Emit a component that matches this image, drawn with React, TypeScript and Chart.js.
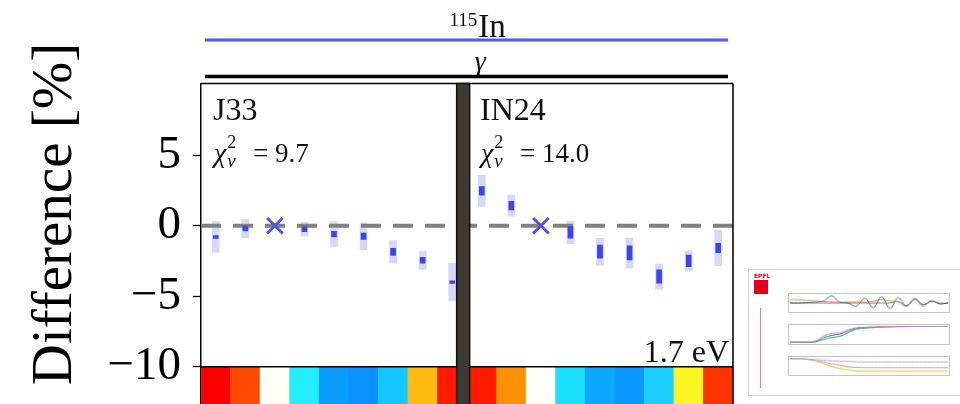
import React, { useEffect, useRef } from 'react';
import { Chart, registerables } from 'chart.js';

Chart.register(...registerables);

// ---- Data -------------------------------------------------------------
// Nine energy bins per evaluated library; bin 3 is the normalisation point.
const BINS = ['g1', 'g2', 'g3', 'g4', 'g5', 'g6', 'g7', 'g8', 'g9'];
const LIBRARIES = ['J33', 'IN24'];
const CHI2_NU = ['9.7', '14.0'];
const REFERENCE_BIN = 2;
const ENERGY_LABEL = '1.7 eV';
const NUCLIDE_MASS = '115';
const NUCLIDE_SYMBOL = 'In';
const REACTION = 'γ';
const Y_LABEL = 'Difference [%]';

// Relative difference [%], total (light) and statistical (dark) half-widths
const J33_DIFF = [-0.8, -0.2, 0, -0.25, -0.6, -0.75, -1.85, -2.45, -4.0];
const J33_TOTAL_UNC = [1.1, 0.65, 0, 0.5, 0.9, 0.95, 0.8, 0.65, 1.33];
const J33_STAT_UNC = [0.1, 0.17, 0, 0.17, 0.2, 0.22, 0.25, 0.2, 0.1];

const IN24_DIFF = [2.47, 1.42, 0, -0.48, -1.84, -1.93, -3.6, -2.5, -1.58];
const IN24_TOTAL_UNC = [1.1, 0.75, 0, 0.8, 0.95, 1.06, 0.9, 0.71, 1.25];
const IN24_STAT_UNC = [0.3, 0.3, 0, 0.41, 0.47, 0.5, 0.47, 0.41, 0.33];

// Sensitivity colour strip under each panel
const J33_STRIP = ['#ff0000', '#ff4a00', '#fffff8', '#22eeff', '#0a9cff', '#0a92ff', '#14c6ff', '#ffbb10', '#ff1a00'];
const IN24_STRIP = ['#ff1a00', '#ff9000', '#fffff8', '#1ae0ff', '#0aa8ff', '#0a98ff', '#1acfff', '#fff520', '#ff3300'];

const Y_TICKS = [5, 0, -5, -10];
const Y_MIN = -12.64;
const Y_MAX = 10.08;
const STRIP_TOP = -10;
const STRIP_BOTTOM = -13;
const SEPARATOR_AT = 8.37; // between the two libraries, in bin units

// Thumbnail plots (normalised values)
const THUMB_XS_A = [0.5, 0.5, 0.52, 0.55, 0.62, 0.95, 0.55, 0.5, 0.3, 0.8, 0.2, 0.9, 0.15, 0.85, 0.3, 0.72, 0.4, 0.6, 0.45, 0.5];
const THUMB_XS_B = [0.72, 0.7, 0.66, 0.62, 0.58, 0.56, 0.55, 0.55, 0.56, 0.55, 0.6, 0.72, 0.62, 0.55, 0.3, 0.8, 0.4, 0.62, 0.5, 0.5];
const THUMB_XS_C = [0.5, 0.5, 0.5, 0.5, 0.5, 0.5, 0.5, 0.5, 0.5, 0.5, 0.5, 0.5, 0.5, 0.6, 0.35, 0.75, 0.3, 0.65, 0.45, 0.5];
const THUMB_CUM_A = [0.05, 0.05, 0.06, 0.12, 0.4, 0.55, 0.6, 0.78, 0.9, 0.93, 0.95, 0.96, 0.97, 0.98, 0.98, 0.99, 0.99, 0.99, 1, 1];
const THUMB_CUM_B = [0.05, 0.05, 0.05, 0.08, 0.3, 0.45, 0.52, 0.7, 0.86, 0.9, 0.93, 0.95, 0.96, 0.97, 0.98, 0.98, 0.99, 0.99, 1, 1];
const THUMB_CUM_C = [0.05, 0.05, 0.05, 0.06, 0.2, 0.33, 0.4, 0.6, 0.82, 0.88, 0.91, 0.94, 0.95, 0.96, 0.97, 0.98, 0.99, 0.99, 1, 1];
const THUMB_DEC_A = [0.95, 0.95, 0.94, 0.9, 0.86, 0.82, 0.8, 0.78, 0.76, 0.75, 0.75, 0.75, 0.75, 0.75, 0.75, 0.75, 0.75, 0.75, 0.75, 0.75];
const THUMB_DEC_B = [0.95, 0.95, 0.93, 0.85, 0.75, 0.62, 0.55, 0.45, 0.42, 0.4, 0.4, 0.4, 0.4, 0.4, 0.4, 0.4, 0.4, 0.4, 0.4, 0.4];
const THUMB_DEC_C = [0.95, 0.95, 0.92, 0.8, 0.65, 0.45, 0.35, 0.25, 0.2, 0.18, 0.18, 0.18, 0.18, 0.18, 0.18, 0.18, 0.18, 0.18, 0.18, 0.18];

// ---- Derived tables --------------------------------------------------
const CATEGORIES = LIBRARIES.flatMap((lib) => BINS.map((b) => `${lib} ${b}`));
const DIFF = [...J33_DIFF, ...IN24_DIFF];
const TOTAL_UNC = [...J33_TOTAL_UNC, ...IN24_TOTAL_UNC];
const STAT_UNC = [...J33_STAT_UNC, ...IN24_STAT_UNC];
const STRIP_COLORS = [...J33_STRIP, ...IN24_STRIP];
const isRef = (i: number) => i % BINS.length === REFERENCE_BIN;

const SERIF = "'Liberation Serif', 'DejaVu Serif', serif";
const BLUE = '#3b44f5';
const LIGHT_BLUE = '#d6d8fb';

const decorations = {
  id: 'decorations',
  afterDatasetDraw(chart: any, args: any) {
    if (args.index !== 1) return;
    // dashed zero line, above the total-uncertainty bands
    const { ctx, chartArea } = chart;
    const y0 = chart.scales.y.getPixelForValue(0);
    ctx.save();
    ctx.strokeStyle = '#808080';
    ctx.lineWidth = 4;
    ctx.setLineDash([20, 12]);
    ctx.beginPath();
    ctx.moveTo(chartArea.left, y0);
    ctx.lineTo(chartArea.right, y0);
    ctx.stroke();
    ctx.restore();
  },
  afterDraw(chart: any) {
    const { ctx, chartArea } = chart;
    const { left, right, top, bottom } = chartArea;
    const x = chart.scales.x;
    const y = chart.scales.y;
    const yStrip = y.getPixelForValue(STRIP_TOP);
    ctx.save();

    // frame
    ctx.strokeStyle = '#000';
    ctx.lineWidth = 1.5;
    ctx.beginPath();
    ctx.moveTo(left, top);
    ctx.lineTo(right, top);
    ctx.moveTo(right, top);
    ctx.lineTo(right, bottom);
    ctx.moveTo(left, yStrip);
    ctx.lineTo(right, yStrip);
    ctx.stroke();

    // separator between libraries
    const sx = x.getPixelForValue(SEPARATOR_AT);
    const sw = 13;
    ctx.fillStyle = '#3d3937';
    ctx.fillRect(sx - sw / 2, top, sw, bottom - top + 2);
    ctx.strokeStyle = '#111';
    ctx.lineWidth = 1.5;
    ctx.strokeRect(sx - sw / 2, top, sw, bottom - top + 2);

    // panel labels
    ctx.fillStyle = '#111';
    ctx.textBaseline = 'alphabetic';
    ctx.textAlign = 'left';
    LIBRARIES.forEach((lib, k) => {
      const x0 = x.getPixelForValue(k * BINS.length - 0.5) + (k === 0 ? 12 : 13);
      ctx.font = `32px ${SERIF}`;
      ctx.fillText(lib, x0, 120);
      ctx.font = `italic 28px ${SERIF}`;
      ctx.fillText('χ', x0 + 1, 162);
      const cw = ctx.measureText('χ').width;
      ctx.font = `18px ${SERIF}`;
      ctx.fillText('2', x0 + cw + 2, 148);
      ctx.font = `italic 19px ${SERIF}`;
      ctx.fillText('ν', x0 + cw + 2, 167);
      ctx.font = `27px ${SERIF}`;
      ctx.fillText(`= ${CHI2_NU[k]}`, x0 + 40, 162);
    });
    ctx.font = `32px ${SERIF}`;
    ctx.textAlign = 'right';
    ctx.fillText(ENERGY_LABEL, right - 4, 362);

    // y-axis title
    ctx.save();
    ctx.translate(71, 214);
    ctx.rotate(-Math.PI / 2);
    ctx.textAlign = 'center';
    ctx.font = `57px ${SERIF}`;
    ctx.fillStyle = '#000';
    ctx.fillText(Y_LABEL, 0, 0);
    ctx.restore();

    // nuclide and reaction headers
    const hx0 = left + 4;
    const hx1 = right - 5;
    ctx.lineWidth = 3;
    ctx.strokeStyle = '#4f56f2';
    ctx.beginPath();
    ctx.moveTo(hx0, 40);
    ctx.lineTo(hx1, 40);
    ctx.stroke();
    ctx.lineWidth = 3.5;
    ctx.strokeStyle = '#000';
    ctx.beginPath();
    ctx.moveTo(hx0, 76.5);
    ctx.lineTo(hx1, 76.5);
    ctx.stroke();

    const hc = x.getPixelForValue(SEPARATOR_AT) + 14;
    ctx.fillStyle = '#111';
    ctx.textAlign = 'left';
    ctx.font = `19px ${SERIF}`;
    const mw = ctx.measureText(NUCLIDE_MASS).width;
    ctx.font = `33px ${SERIF}`;
    const nw = ctx.measureText(NUCLIDE_SYMBOL).width;
    const start = hc - (mw + nw) / 2;
    ctx.font = `19px ${SERIF}`;
    ctx.fillText(NUCLIDE_MASS, start, 26);
    ctx.font = `33px ${SERIF}`;
    ctx.fillText(NUCLIDE_SYMBOL, start + mw + 1, 37);
    ctx.font = `italic 28px ${SERIF}`;
    ctx.textAlign = 'center';
    ctx.fillText(REACTION, hc + 3, 70);

    ctx.restore();
  },
};

function MiniPlot({ series, colors, width, height }: { series: number[][]; colors: string[]; width: number; height: number }) {
  const ref = useRef<HTMLCanvasElement>(null);
  useEffect(() => {
    const chart = new Chart(ref.current as HTMLCanvasElement, {
      type: 'line',
      data: {
        labels: series[0].map((_, i) => i),
        datasets: series.map((s, k) => ({
          data: s,
          borderColor: colors[k],
          borderWidth: 1,
          pointRadius: 0,
          tension: 0.3,
        })),
      },
      options: {
        animation: false,
        responsive: false,
        events: [],
        plugins: { legend: { display: false }, tooltip: { enabled: false } },
        scales: { x: { display: false }, y: { display: false, min: 0, max: 1 } },
        layout: { padding: 1 },
      },
    });
    return () => chart.destroy();
  }, []);
  return <canvas ref={ref} width={width} height={height} style={{ display: 'block', border: '1px solid #c4c4c4' }} />;
}

function Thumbnail() {
  return (
    <div
      style={{
        position: 'absolute',
        left: 748,
        top: 269,
        width: 220,
        height: 125,
        border: '1px solid #d6d6d6',
        background: '#fff',
        filter: 'blur(0.6px)',
        fontFamily: "'DejaVu Sans', sans-serif",
      }}
    >
      <div style={{ position: 'absolute', left: 5, top: 2, fontSize: 6, fontWeight: 700, color: '#e2001a', lineHeight: '7px' }}>EPFL</div>
      <div style={{ position: 'absolute', left: 5, top: 10, width: 14, height: 14, background: '#e2001a' }} />
      <div style={{ position: 'absolute', left: 11, top: 38, width: 1, height: 80, background: '#f08080' }} />
      <div style={{ position: 'absolute', left: 39, top: 23 }}>
        <MiniPlot series={[THUMB_XS_A, THUMB_XS_B, THUMB_XS_C]} colors={['#1f77b4', '#ff7f0e', '#9467bd']} width={162} height={20} />
      </div>
      <div style={{ position: 'absolute', left: 39, top: 54 }}>
        <MiniPlot series={[THUMB_CUM_A, THUMB_CUM_B, THUMB_CUM_C]} colors={['#e377c2', '#1f77b4', '#2ca02c']} width={162} height={21} />
      </div>
      <div style={{ position: 'absolute', left: 39, top: 86 }}>
        <MiniPlot series={[THUMB_DEC_A, THUMB_DEC_B, THUMB_DEC_C]} colors={['#9aa6f0', '#ff7f7f', '#bcd22c']} width={162} height={20} />
      </div>
    </div>
  );
}

export default function App() {
  const ref = useRef<HTMLCanvasElement>(null);

  useEffect(() => {
    const chart = new Chart(ref.current as HTMLCanvasElement, {
      type: 'bar',
      data: {
        labels: CATEGORIES,
        datasets: [
          {
            label: 'sensitivity',
            data: CATEGORIES.map(() => [STRIP_BOTTOM, STRIP_TOP]) as any,
            backgroundColor: STRIP_COLORS,
            borderWidth: 0,
            barPercentage: 1,
            categoryPercentage: 1,
            grouped: false,
            order: 4,
          },
          {
            label: 'total uncertainty',
            data: DIFF.map((v, i) => (isRef(i) ? null : [v - TOTAL_UNC[i], v + TOTAL_UNC[i]])) as any,
            backgroundColor: LIGHT_BLUE,
            borderWidth: 0,
            barThickness: 7,
            grouped: false,
            order: 3,
          },
          {
            label: 'statistical uncertainty',
            data: DIFF.map((v, i) => (isRef(i) ? null : [v - STAT_UNC[i], v + STAT_UNC[i]])) as any,
            backgroundColor: BLUE,
            borderWidth: 0,
            barThickness: 5,
            grouped: false,
            order: 2,
          },
          {
            type: 'line' as const,
            label: 'reference',
            data: DIFF.map((v, i) => (isRef(i) ? v : null)),
            showLine: false,
            pointStyle: 'crossRot',
            pointRadius: 11,
            borderWidth: 2.8,
            borderColor: '#4b52f2',
            backgroundColor: '#4b52f2',
            order: 1,
          } as any,
        ],
      },
      options: {
        animation: false,
        responsive: true,
        maintainAspectRatio: false,
        events: [],
        layout: { autoPadding: false, padding: { top: 83.5, right: 227, bottom: 0, left: 0 } },
        plugins: { legend: { display: false }, tooltip: { enabled: false } },
        scales: {
          x: { display: false, offset: true },
          y: {
            min: Y_MIN,
            max: Y_MAX,
            afterBuildTicks: (s: any) => {
              s.ticks = Y_TICKS.map((v) => ({ value: v }));
            },
            afterFit: (s: any) => {
              s.width = 201;
              s.paddingTop = 0;
              s.paddingBottom = 0;
            },
            ticks: {
              padding: 12,
              color: '#000',
              font: { family: SERIF, size: 47 },
              callback: (v: any) => (Number(v) < 0 ? `\u2212${Math.abs(Number(v))}` : `${v}`),
            },
            grid: {
              display: true,
              drawOnChartArea: false,
              drawTicks: true,
              tickLength: 8,
              tickColor: '#000',
              tickWidth: 1.3,
            },
            border: { display: true, color: '#000', width: 1.5 },
          },
        },
      },
      plugins: [decorations],
    });
    return () => chart.destroy();
  }, []);

  return (
    <div style={{ position: 'absolute', left: 0, top: 0, width: 960, height: 404, overflow: 'hidden', background: '#fff' }}>
      <div style={{ position: 'absolute', left: 0, top: 0, width: 960, height: 404 }}>
        <canvas ref={ref} />
      </div>
      <Thumbnail />
    </div>
  );
}
